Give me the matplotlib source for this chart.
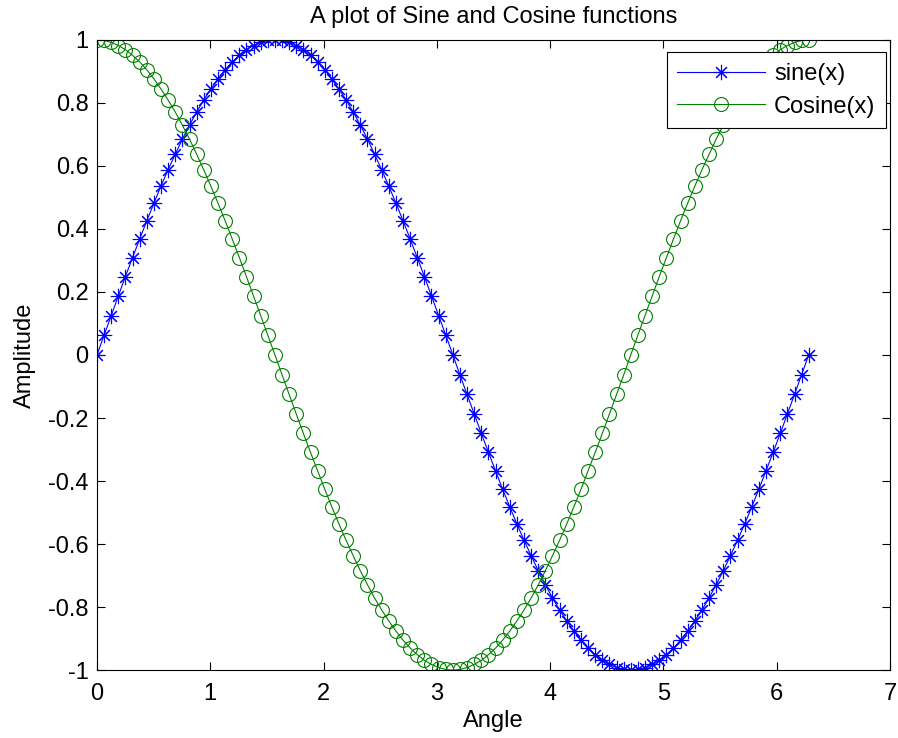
import matplotlib
matplotlib.use("Agg")
import matplotlib.pyplot as plt
from matplotlib.ticker import FuncFormatter

# angle samples (radians), 0 .. 2*pi in steps of pi/50
angle = [
    0.000, 0.063, 0.126, 0.188, 0.251, 0.314, 0.377, 0.440, 0.503, 0.565,
    0.628, 0.691, 0.754, 0.817, 0.880, 0.942, 1.005, 1.068, 1.131, 1.194,
    1.257, 1.319, 1.382, 1.445, 1.508, 1.571, 1.634, 1.696, 1.759, 1.822,
    1.885, 1.948, 2.011, 2.073, 2.136, 2.199, 2.262, 2.325, 2.388, 2.450,
    2.513, 2.576, 2.639, 2.702, 2.765, 2.827, 2.890, 2.953, 3.016, 3.079,
    3.142, 3.204, 3.267, 3.330, 3.393, 3.456, 3.519, 3.581, 3.644, 3.707,
    3.770, 3.833, 3.896, 3.958, 4.021, 4.084, 4.147, 4.210, 4.273, 4.335,
    4.398, 4.461, 4.524, 4.587, 4.650, 4.712, 4.775, 4.838, 4.901, 4.964,
    5.027, 5.089, 5.152, 5.215, 5.278, 5.341, 5.404, 5.466, 5.529, 5.592,
    5.655, 5.718, 5.781, 5.843, 5.906, 5.969, 6.032, 6.095, 6.158, 6.220,
    6.283,
]

sine_vals = [
    0.000, 0.063, 0.125, 0.187, 0.249, 0.309, 0.368, 0.426, 0.482, 0.536,
    0.588, 0.637, 0.685, 0.729, 0.771, 0.809, 0.844, 0.876, 0.905, 0.930,
    0.951, 0.969, 0.982, 0.992, 0.998, 1.000, 0.998, 0.992, 0.982, 0.969,
    0.951, 0.930, 0.905, 0.876, 0.844, 0.809, 0.771, 0.729, 0.685, 0.637,
    0.588, 0.536, 0.482, 0.426, 0.368, 0.309, 0.249, 0.187, 0.125, 0.063,
    0.000, -0.063, -0.125, -0.187, -0.249, -0.309, -0.368, -0.426, -0.482, -0.536,
    -0.588, -0.637, -0.685, -0.729, -0.771, -0.809, -0.844, -0.876, -0.905, -0.930,
    -0.951, -0.969, -0.982, -0.992, -0.998, -1.000, -0.998, -0.992, -0.982, -0.969,
    -0.951, -0.930, -0.905, -0.876, -0.844, -0.809, -0.771, -0.729, -0.685, -0.637,
    -0.588, -0.536, -0.482, -0.426, -0.368, -0.309, -0.249, -0.187, -0.125, -0.063,
    0.000,
]

cosine_vals = [
    1.000, 0.998, 0.992, 0.982, 0.969, 0.951, 0.930, 0.905, 0.876, 0.844,
    0.809, 0.771, 0.729, 0.685, 0.637, 0.588, 0.536, 0.482, 0.426, 0.368,
    0.309, 0.249, 0.187, 0.125, 0.063, 0.000, -0.063, -0.125, -0.187, -0.249,
    -0.309, -0.368, -0.426, -0.482, -0.536, -0.588, -0.637, -0.685, -0.729, -0.771,
    -0.809, -0.844, -0.876, -0.905, -0.930, -0.951, -0.969, -0.982, -0.992, -0.998,
    -1.000, -0.998, -0.992, -0.982, -0.969, -0.951, -0.930, -0.905, -0.876, -0.844,
    -0.809, -0.771, -0.729, -0.685, -0.637, -0.588, -0.536, -0.482, -0.426, -0.368,
    -0.309, -0.249, -0.187, -0.125, -0.063, 0.000, 0.063, 0.125, 0.187, 0.249,
    0.309, 0.368, 0.426, 0.482, 0.536, 0.588, 0.637, 0.685, 0.729, 0.771,
    0.809, 0.844, 0.876, 0.905, 0.930, 0.951, 0.969, 0.982, 0.992, 0.998,
    1.000,
]

plt.rcParams["font.family"] = ["Liberation Sans", "DejaVu Sans"]

FS = 17

fig = plt.figure(figsize=(8.98, 7.38), dpi=100)
ax = fig.add_axes([0.108, 0.092, 0.883, 0.854])

ax.plot(angle, sine_vals, color="#0000FF", lw=0.8, marker=(8, 2, 0),
        markersize=11, markeredgewidth=0.8, label="sine(x)")
ax.plot(angle, cosine_vals, color="#008000", lw=0.8, marker="o",
        markersize=10, markerfacecolor="none", markeredgewidth=0.8,
        label="Cosine(x)")

ax.set_xlim(0, 7)
ax.set_ylim(-1, 1)
ax.set_xticks(range(0, 8))
ax.set_yticks([-1, -0.8, -0.6, -0.4, -0.2, 0, 0.2, 0.4, 0.6, 0.8, 1])
ax.yaxis.set_major_formatter(FuncFormatter(lambda v, p: f"{v:g}"))
ax.tick_params(direction="in", length=6, width=0.8, top=True, right=True,
               labelsize=FS)
ax.tick_params(axis="x", pad=9)
ax.tick_params(axis="y", pad=6)
for s in ax.spines.values():
    s.set_linewidth(0.8)

ax.set_title("A plot of Sine and Cosine functions", fontsize=FS, pad=12)
ax.set_xlabel("Angle", fontsize=FS, labelpad=4)
ax.set_ylabel("Amplitude", fontsize=FS, labelpad=9)

leg = ax.legend(loc="upper right", fontsize=FS, fancybox=False,
                framealpha=1, edgecolor="black", handlelength=3.7,
                bbox_to_anchor=(0.995, 0.98), borderaxespad=0,
                borderpad=0.45, handletextpad=0.4, labelspacing=0.45)
leg.get_frame().set_linewidth(0.8)

fig.savefig("out.png", dpi=100)
